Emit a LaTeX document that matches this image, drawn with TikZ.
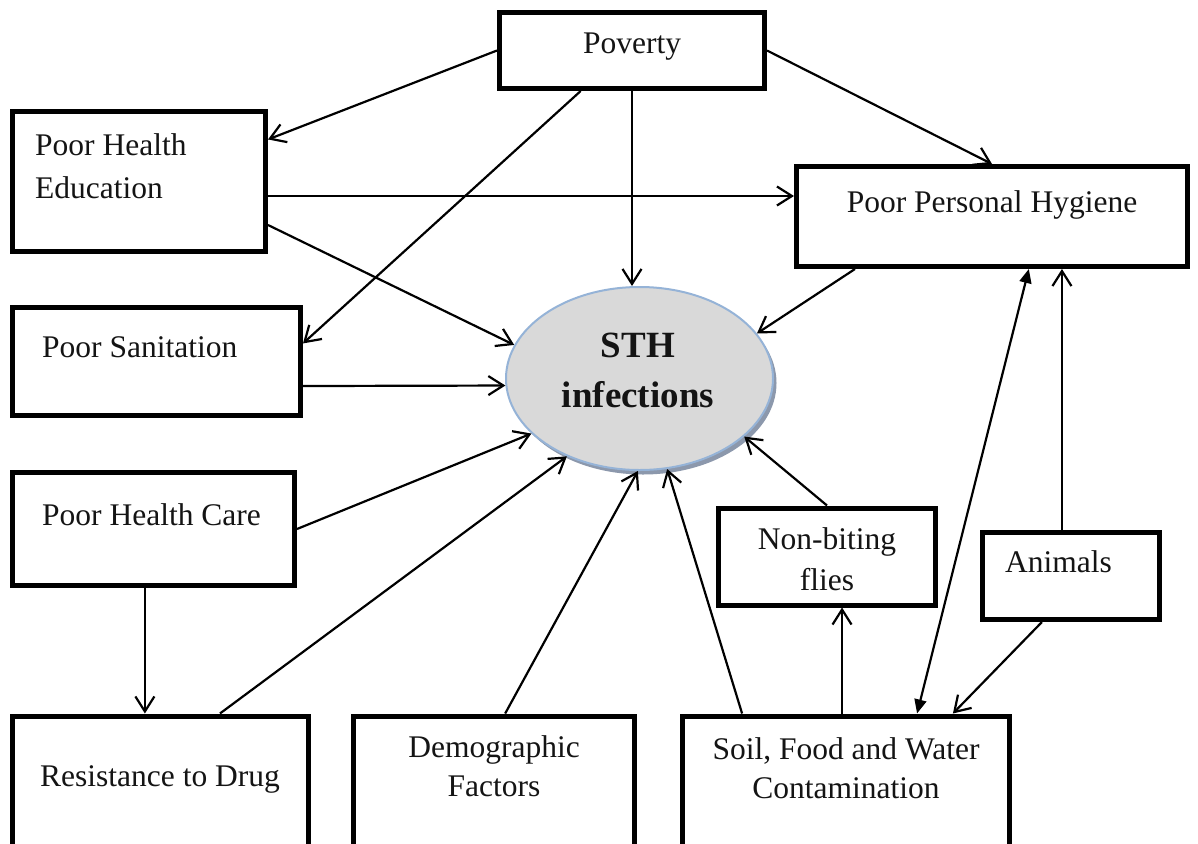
\documentclass[tikz,border=0pt]{standalone}
\usepackage{fontspec}
\setmainfont{Liberation Serif}
\usetikzlibrary{arrows.meta,shapes.geometric,calc}
\definecolor{sthfill}{RGB}{217,217,217}
\definecolor{sthline}{RGB}{149,179,215}
\definecolor{sthshade}{RGB}{140,152,172}
\definecolor{ink}{RGB}{20,20,20}

\tikzset{
  box/.style={draw=black, line width=5pt, rectangle, inner sep=0pt},
  txt/.style={font=\fontsize{31.5}{40}\selectfont, inner sep=0pt, anchor=base, text=ink},
  txtl/.style={txt, anchor=base west},
  bigtxt/.style={font=\fontsize{37}{50}\selectfont\bfseries, inner sep=0pt, anchor=base, text=ink},
  arr/.style={line width=2.2pt, -{Straight Barb[length=15pt,width=19pt]}},
  duo/.style={line width=2.2pt, {Triangle[length=14pt,width=12pt]}-{Triangle[length=14pt,width=12pt]}},
}

\begin{document}
\begin{tikzpicture}[x=1pt,y=-1pt]
\clip (0,0) rectangle (1198,843);
\fill[white] (0,0) rectangle (1198,843);

% cause boxes
\node[box, minimum width=265pt, minimum height=76pt]  (pov)  at (632,50.5) {};
\node[box, minimum width=253pt, minimum height=140pt] (phe)  at (139,181.5) {};
\node[box, minimum width=391pt, minimum height=100pt] (pph)  at (992,216.5) {};
\node[box, minimum width=288pt, minimum height=108pt] (ps)   at (156.5,361.5) {};
\node[box, minimum width=282pt, minimum height=113pt] (phc)  at (153.5,529) {};
\node[box, minimum width=217pt, minimum height=97pt]  (nbf)  at (827,556.5) {};
\node[box, minimum width=177pt, minimum height=87pt]  (ani)  at (1070.5,576) {};
\node[box, minimum width=296.5pt, minimum height=154pt] (res)  at (160.25,793) {};
\node[box, minimum width=280.5pt, minimum height=154pt] (dem)  at (493.75,793) {};
\node[box, minimum width=327pt, minimum height=154pt] (soil) at (846,793) {};

% central ellipse with its shadow
\fill[sthshade] (643,383) ellipse [x radius=133.5pt, y radius=91.5pt];
\node[ellipse, draw=sthline, fill=sthfill, line width=2pt, inner sep=0pt,
      minimum width=267pt, minimum height=183pt] (sth) at (639.5,378.5) {};

% labels
\node[bigtxt] (sth-l1) at (638,357) {STH};
\node[bigtxt] (sth-l2) at (638,407) {infections};
\node[txt]  (pov-t)   at (632,53)   {Poverty};
\node[txtl] (phe-l1)  at (35,155)   {Poor Health};
\node[txtl] (phe-l2)  at (35,198)   {Education};
\node[txt]  (pph-t)   at (992,212)  {Poor Personal Hygiene};
\node[txtl] (ps-t)    at (42,357)   {Poor Sanitation};
\node[txtl] (phc-t)   at (42,525)   {Poor Health Care};
\node[txt]  (nbf-l1)  at (827,549)  {Non-biting};
\node[txt]  (nbf-l2)  at (827,590)  {flies};
\node[txtl] (ani-t)   at (1005,572) {Animals};
\node[txt]  (res-t)   at (160,786)  {Resistance to Drug};
\node[txt]  (dem-l1)  at (494,757)  {Demographic};
\node[txt]  (dem-l2)  at (494,796)  {Factors};
\node[txt]  (soil-l1) at (846,759)  {Soil, Food and Water};
\node[txt]  (soil-l2) at (846,798)  {Contamination};

% connectors
\draw[arr] (pov.west) -- ($(phe.north east)!0.21!(phe.south east)$);
\draw[arr] (pov.east) -- (pph.north);
\draw[arr] (pov.south) -- (pov.south |- sth.north);
\draw[arr] ($(pov.south west)!0.31!(pov.south east)$) -- ($(ps.north east)!0.34!(ps.south east)$);
\coordinate (phe-o) at ($(phe.north east)!0.6!(phe.south east)$);
\draw[arr] (phe-o) -- (phe-o -| pph.west);
\draw[arr] ($(phe.north east)!0.8!(phe.south east)$) -- (sth.165);
\coordinate (ps-o) at ($(ps.north east)!0.717!(ps.south east)$);
\draw[arr] (ps-o) -- (sth.183);
\draw[arr] (phc.east) -- (sth.207);
\coordinate (phc-o) at ($(phc.south west)!0.47!(phc.south east)$);
\draw[arr] (phc-o) -- (phc-o |- res.north);
\draw[arr] ($(res.north west)!0.698!(res.north east)$) -- (sth.227);
\draw[arr] ($(dem.north west)!0.54!(dem.north east)$) -- (sth.269);
\draw[arr] ($(soil.north west)!0.187!(soil.north east)$) -- (sth.287);
\coordinate (soil-o) at ($(soil.north west)!0.488!(soil.north east)$);
\draw[arr] (soil-o) -- (soil-o |- nbf.south);
\draw[arr] (nbf.north) -- (sth.331);
\draw[duo] ($(soil.north west)!0.714!(soil.north east)$) -- ($(pph.south west)!0.593!(pph.south east)$);
\coordinate (ani-o) at ($(ani.north west)!0.453!(ani.north east)$);
\draw[arr] (ani-o) -- (ani-o |- pph.south);
\draw[arr] ($(ani.south west)!0.343!(ani.south east)$) -- ($(soil.north west)!0.822!(soil.north east)$);
\draw[arr] ($(pph.south west)!0.154!(pph.south east)$) -- (sth.21);
\end{tikzpicture}
\end{document}
